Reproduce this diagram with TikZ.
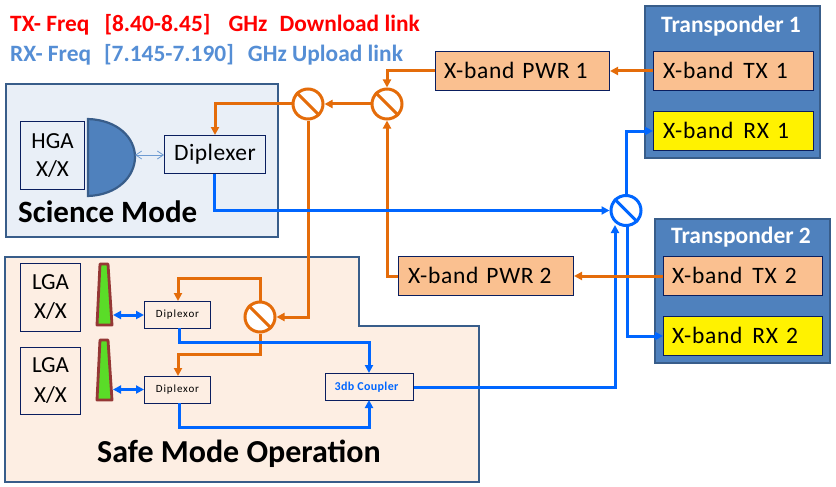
\documentclass[tikz,border=0pt]{standalone}
\usepackage{fontspec}
\setmainfont{Carlito}
\usetikzlibrary{arrows.meta}
\definecolor{org}{RGB}{228,108,10}
\definecolor{blu}{RGB}{0,102,255}
\definecolor{navy}{RGB}{10,30,95}
\definecolor{frame}{RGB}{56,93,138}
\definecolor{steel}{RGB}{79,129,189}
\definecolor{rxtext}{RGB}{85,142,213}
\definecolor{sciencebg}{RGB}{233,239,247}
\definecolor{safebg}{RGB}{253,238,227}
\definecolor{peach}{RGB}{250,192,144}
\definecolor{hornred}{RGB}{149,55,53}
\definecolor{horngreen}{RGB}{90,220,40}
\definecolor{thinblue}{RGB}{110,155,210}
\tikzset{
  x=1pt,y=-1pt,
  every node/.style={font=\fontsize{23.5}{26}\selectfont},
  panel/.style={draw=frame,line width=2.8pt},
  plainbox/.style={draw=navy,line width=1pt,inner sep=0pt,fill=#1},
  plainbox/.default=none,
  orgline/.style={draw=org,line width=3pt,-{Triangle[length=8pt,width=8pt]}},
  bluline/.style={draw=blu,line width=3pt,-{Triangle[length=8pt,width=8pt]}},
  switchcirc/.style={circle,minimum size=30pt,inner sep=0pt,line width=3pt,fill=white},
  horn/.style={draw=hornred,fill=horngreen,line width=2.8pt,line join=round},
  lbl/.style={anchor=west,inner sep=0pt},
}
\newcommand{\boxat}[6]{\node[plainbox=#6,minimum width=#3 pt - #1 pt,minimum height=#4 pt - #2 pt,anchor=north west] (#5) at (#1,#2) {};}
\begin{document}
\begin{tikzpicture}
\useasboundingbox (0,0) rectangle (836,487);
% panels
\draw[panel,fill=sciencebg] (6,84) rectangle (278,237);
\draw[panel,fill=safebg] (5,257) -- (359,257) -- (359,326) -- (479,326) -- (479,482) -- (5,482) -- cycle;
\draw[panel,fill=steel] (645,6) rectangle (820,158);
\draw[panel,fill=steel] (655,219) rectangle (830,363);
% boxes
\boxat{20}{121}{84}{189}{hga}{none}
\boxat{164}{135}{265}{173}{dip}{none}
\boxat{20}{263}{80}{331}{lgaa}{none}
\boxat{20}{347}{80}{414}{lgab}{none}
\boxat{144}{301}{210}{328}{dipa}{none}
\boxat{144}{376}{210}{403}{dipb}{none}
\boxat{325}{373}{413}{400}{coup}{none}
\boxat{435}{51}{609}{90}{pwra}{peach}
\boxat{398}{256}{573}{295}{pwrb}{peach}
\boxat{653}{51}{813}{90}{txa}{peach}
\boxat{653}{111}{813}{150}{rxa}{yellow}
\boxat{663}{256}{822}{295}{txb}{peach}
\boxat{663}{316}{822}{355}{rxb}{yellow}
% box texts
\node[align=center,font=\fontsize{23}{28}\selectfont] at (hga) {HGA\\X/X};
\node[align=center,font=\fontsize{23}{29}\selectfont] at (lgaa) {LGA\\X/X};
\node[align=center,font=\fontsize{23}{30}\selectfont] at (lgab) {LGA\\X/X};
\node[font=\fontsize{23.5}{26}\selectfont] at (dip) {\addfontfeature{LetterSpace=2}Diplexer};
\node[font=\fontsize{11}{13}\selectfont] at (dipa) {\addfontfeature{LetterSpace=8}Diplexor};
\node[font=\fontsize{11}{13}\selectfont] at (dipb) {\addfontfeature{LetterSpace=8}Diplexor};
\node[font=\fontsize{12}{14}\selectfont\bfseries,text=blu,xshift=-3pt] at (coup) {\addfontfeature{LetterSpace=3}3db Coupler};
\node[lbl] at (444,70.5) {\addfontfeature{LetterSpace=3}X-band\hspace{8pt}PWR 1};
\node[lbl] at (408,275.5) {\addfontfeature{LetterSpace=3}X-band\hspace{8pt}PWR 2};
\node[lbl] at (663,70.5) {\addfontfeature{LetterSpace=3}X-band\hspace{10pt}TX\hspace{8pt}1};
\node[lbl] at (663,130.5) {\addfontfeature{LetterSpace=3}X-band\hspace{10pt}RX\hspace{8pt}1};
\node[lbl] at (672,275.5) {\addfontfeature{LetterSpace=3}X-band\hspace{10pt}TX\hspace{8pt}2};
\node[lbl] at (672,335.5) {\addfontfeature{LetterSpace=3}X-band\hspace{10pt}RX\hspace{8pt}2};
\node[font=\fontsize{23.5}{26}\selectfont\bfseries,text=white] (tra) at (731,26) {Transponder 1};
\node[font=\fontsize{23.5}{26}\selectfont\bfseries,text=white] (trb) at (741,237) {Transponder 2};
\node[lbl,font=\fontsize{31}{34}\selectfont\bfseries] (sci) at (18,212) {Science Mode};
\node[lbl,font=\fontsize{32}{36}\selectfont\bfseries] (safe) at (97,454) {Safe Mode Operation};
\node[lbl,text=red,font=\fontsize{23.4}{26}\selectfont\bfseries] (t1) at (10,25) {TX- Freq\hspace{15pt}[8.40-8.45]\hspace{18pt}GHz\hspace{12pt}Download link};
\node[lbl,text=rxtext,font=\fontsize{23.4}{26}\selectfont\bfseries] (t2) at (10,55) {RX- Freq\hspace{13pt}[7.145-7.190]\hspace{14pt}GHz Upload link};
% dish
\draw[fill=steel,draw=frame,line width=2.2pt] (88,119) .. controls (118,120) and (135,138) .. (135,157) .. controls (135,176) and (118,195) .. (88,196) -- cycle;
\coordinate (dishtip) at (135,155);
\draw[thinblue,line width=0.8pt,{Straight Barb[length=6pt,width=8pt]}-{Straight Barb[length=6pt,width=8pt]}] (dishtip) -- (dip.west |- dishtip);
% horns
\draw[horn] (100,264) -- (108,264) -- (112,325) -- (97,325) -- cycle;
\draw[horn] (100,340) -- (108,340) -- (112,400) -- (97,400) -- cycle;
\coordinate (hpa) at (113,315);
\coordinate (hpb) at (113,389.5);
\draw[blu,line width=3pt,{Triangle[length=8pt,width=8pt]}-{Triangle[length=8pt,width=8pt]}] (hpa) -- (dipa.west |- hpa);
\draw[blu,line width=3pt,{Triangle[length=8pt,width=8pt]}-{Triangle[length=8pt,width=8pt]}] (hpb) -- (dipb.west |- hpb);
% switches
\node[switchcirc,draw=org] (sa) at (308,104) {};
\node[switchcirc,draw=org] (sb) at (387,104) {};
\node[switchcirc,draw=org] (sc) at (260,317) {};
\node[switchcirc,draw=blu] (sd) at (626,210.5) {};
\foreach \s/\c in {sa/org,sb/org,sc/org,sd/blu}
  \draw[\c,line width=3pt] (\s.135) -- (\s.-45);
% orange connectors
\draw[orgline] (pwra.west) -| (sb.north);
\draw[orgline] (pwrb.west) -| (sb.south);
\draw[orgline] (sb.west) -- (sa.east);
\draw[orgline] (sa.west) -| (dip.north);
\draw[orgline] (sa.south) |- (sc.east);
\coordinate (ja) at (260,278);
\coordinate (jb) at (260,354);
\draw[orgline] (sc.north) -- (ja) -| (dipa.north -| 178,0);
\draw[orgline] (sc.south) -- (jb) -| (dipb.north -| 178,0);
% blue connectors
\coordinate (jc) at (214.5,210.5);
\draw[bluline] (dip.south -| jc) -- (jc) -- (sd.west);
\coordinate (da) at (179.5,328);
\coordinate (db) at (179.5,403);
\draw[bluline] (da) |- (369,342) -- (369,373);
\draw[bluline] (db) |- (369,427) -- (369,400);
\draw[bluline] (coup.east) -| (615,225);
\draw[bluline] (sd.north) |- (rxa.west);
\coordinate (se) at (627,226);
\draw[bluline] (se) |- (rxb.west);
% orange over blue
\draw[orgline] (txa.west) -- (pwra.east);
\draw[orgline] (txb.west) -- (pwrb.east);
\end{tikzpicture}
\end{document}
